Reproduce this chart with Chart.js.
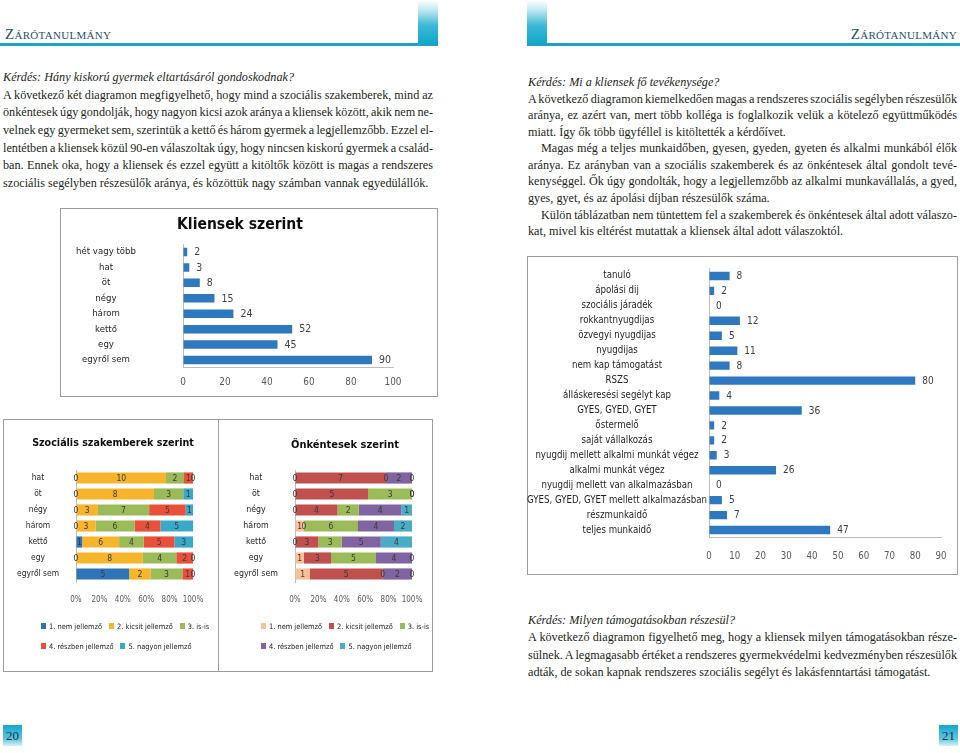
<!DOCTYPE html>
<html lang="hu"><head><meta charset="utf-8">
<title>Zárótanulmány</title>
<script src="https://cdn.jsdelivr.net/npm/chart.js@4.4.1/dist/chart.umd.min.js"></script>
<style>
html,body{margin:0;padding:0;background:#fff;}
body{width:960px;height:753px;position:relative;overflow:hidden;font-family:'Liberation Serif','DejaVu Serif',serif;color:#231f20;}
.ln{position:absolute;white-space:nowrap;font-size:12.2px;line-height:16px;height:16px;}
.it{font-style:italic;}
.frame{position:absolute;border:1px solid #9c9c9c;box-sizing:border-box;}
canvas.ch{position:absolute;}
.hdr{position:absolute;top:26px;font-variant:small-caps;font-size:15px;letter-spacing:0.3px;line-height:16px;color:#24506f;}
.rule{position:absolute;top:43px;height:3px;background:#1aa3c5;}
.vbar{position:absolute;top:0;height:46px;width:20px;background:linear-gradient(to bottom,#ffffff 0%,#bfe8f1 22%,#3db8d6 55%,#0ba6ca 100%);}
.pg{position:absolute;top:725px;width:19px;height:21px;background:linear-gradient(to bottom,#12a8cb 0%,#5cc5dd 65%,#d8f1f7 100%);font-size:13px;line-height:21px;text-align:center;color:#1d2f4a;}
.leg{position:absolute;white-space:nowrap;color:#222;line-height:12px;height:12px;}
.leg i{display:inline-block;width:5px;height:6px;margin-right:3px;}
</style>
</head>
<body>
<!-- headers -->
<div class="vbar" style="left:418px"></div>
<div class="rule" style="left:0px;width:438px"></div>
<div class="hdr" style="left:5px">Zárótanulmány</div>
<div class="vbar" style="left:527px"></div>
<div class="rule" style="left:527px;width:433px"></div>
<div class="hdr" style="right:3px">Zárótanulmány</div>

<!-- left page text -->
<div class="ln it" style="left:3px;top:69px">Kérdés: Hány kiskorú gyermek eltartásáról gondoskodnak?</div>
<div class="ln j" data-w="430" style="left:3px;top:86.7px">A következő két diagramon megfigyelhető, hogy mind a szociális szakemberek, mind az</div>
<div class="ln j" data-w="430" style="left:3px;top:104.3px">önkéntesek úgy gondolják, hogy nagyon kicsi azok aránya a kliensek között, akik nem ne-</div>
<div class="ln j" data-w="430" style="left:3px;top:122px">velnek egy gyermeket sem, szerintük a kettő és három gyermek a legjellemzőbb. Ezzel el-</div>
<div class="ln j" data-w="430" style="left:3px;top:139.7px">lentétben a kliensek közül 90-en válaszoltak úgy, hogy nincsen kiskorú gyermek a család-</div>
<div class="ln j" data-w="430" style="left:3px;top:157.3px">ban. Ennek oka, hogy a kliensek és ezzel együtt a kitöltők között is magas a rendszeres</div>
<div class="ln" style="left:3px;top:175px">szociális segélyben részesülők aránya, és közöttük nagy számban vannak egyedülállók.</div>

<!-- right page text -->
<div class="ln it" style="left:528px;top:74px">Kérdés: Mi a kliensek fő tevékenysége?</div>
<div class="ln j" data-w="429" style="left:528px;top:90.6px">A következő diagramon kiemelkedően magas a rendszeres szociális segélyben részesülők</div>
<div class="ln j" data-w="429" style="left:528px;top:107.1px">aránya, ez azért van, mert több kolléga is foglalkozik velük a kötelező együttműködés</div>
<div class="ln" style="left:528px;top:123.7px">miatt. Így ők több ügyféllel is kitöltették a kérdőívet.</div>
<div class="ln j" data-w="416" style="left:541px;top:140.2px">Magas még a teljes munkaidőben, gyesen, gyeden, gyeten és alkalmi munkából élők</div>
<div class="ln j" data-w="429" style="left:528px;top:156.8px">aránya. Ez arányban van a szociális szakemberek és az önkéntesek által gondolt tevé-</div>
<div class="ln j" data-w="429" style="left:528px;top:173.4px">kenységgel. Ők úgy gondolták, hogy a legjellemzőbb az alkalmi munkavállalás, a gyed,</div>
<div class="ln" style="left:528px;top:189.9px">gyes, gyet, és az ápolási díjban részesülők száma.</div>
<div class="ln j" data-w="416" style="left:541px;top:206.5px">Külön táblázatban nem tüntettem fel a szakemberek és önkéntesek által adott válaszo-</div>
<div class="ln" style="left:528px;top:223px">kat, mivel kis eltérést mutattak a kliensek által adott válaszoktól.</div>

<div class="ln it" style="left:528px;top:612px">Kérdés: Milyen támogatásokban részesül?</div>
<div class="ln j" data-w="429" style="left:528px;top:629px">A következő diagramon figyelhető meg, hogy a kliensek milyen támogatásokban része-</div>
<div class="ln j" data-w="429" style="left:528px;top:647px">sülnek. A legmagasabb értéket a rendszeres gyermekvédelmi kedvezményben részesülők</div>
<div class="ln" style="left:528px;top:664px">adták, de sokan kapnak rendszeres szociális segélyt és lakásfenntartási támogatást.</div>

<div class="pg" style="left:3px">20</div>
<div class="pg" style="left:939px">21</div>

<!-- chart frames -->
<div class="frame" style="left:60px;top:208px;width:378px;height:189px"></div>
<div class="frame" style="left:3px;top:419px;width:216px;height:253px"></div>
<div class="frame" style="left:218px;top:419px;width:215px;height:253px"></div>
<div class="frame" style="left:527px;top:256px;width:431px;height:319px"></div>

<canvas class="ch" id="kids" width="378" height="189" style="left:60px;top:208px"></canvas>
<canvas class="ch" id="social" width="215" height="253" style="left:3px;top:418px"></canvas>
<canvas class="ch" id="volunteer" width="215" height="253" style="left:218px;top:418px"></canvas>
<canvas class="ch" id="activity" width="431" height="318" style="left:527px;top:256px"></canvas>

<script>
// ---------------- DATA ----------------
const kidCategories = ['hét vagy több', 'hat', 'öt', 'négy', 'három', 'kettő', 'egy', 'egyről sem'];
const kidClientValues = [2, 3, 8, 15, 24, 52, 45, 90];
const kidTicks = ['0', '20', '40', '60', '80', '100'];

const stackCategories = ['hat', 'öt', 'négy', 'három', 'kettő', 'egy', 'egyről sem'];
const ratingLabels = ['1. nem jellemző', '2. kicsit jellemző', '3. is-is', '4. részben jellemző', '5. nagyon jellemző'];
const percentTicks = ['0%', '20%', '40%', '60%', '80%', '100%'];

const socialNem = [0, 0, 0, 0, 1, 0, 5];
const socialKicsit = [10, 8, 3, 3, 6, 8, 2];
const socialIsis = [2, 3, 7, 6, 4, 4, 3];
const socialReszben = [1, 0, 5, 4, 5, 2, 1];
const socialNagyon = [0, 1, 1, 5, 3, 0, 0];

const volNem = [0, 0, 0, 1, 0, 1, 1];
const volKicsit = [7, 5, 4, 0, 3, 3, 5];
const volIsis = [0, 3, 2, 6, 3, 5, 0];
const volReszben = [2, 0, 4, 4, 5, 4, 2];
const volNagyon = [0, 0, 1, 2, 4, 0, 0];

const activityCategories = ['tanuló', 'ápolási dij', 'szociális járadék', 'rokkantnyugdijas', 'özvegyi nyugdijas',
  'nyugdijas', 'nem kap támogatást', 'RSZS', 'álláskeresési segélyt kap', 'GYES, GYED, GYET', 'őstermelő',
  'saját vállalkozás', 'nyugdij mellett alkalmi munkát végez', 'alkalmi munkát végez',
  'nyugdij mellett van alkalmazásban', 'GYES, GYED, GYET mellett alkalmazásban', 'részmunkaidő', 'teljes munkaidő'];
const activityValues = [8, 2, 0, 12, 5, 11, 8, 80, 4, 36, 2, 2, 3, 26, 0, 5, 7, 47];
const activityTicks = ['0', '10', '20', '30', '40', '50', '60', '70', '80', '90'];

const socialColors = ['#2e75b6', '#f7b52c', '#9bbb59', '#e8503a', '#39a9c9'];
const volColors = ['#f9c19b', '#c0504d', '#9bbb59', '#8064a2', '#4bacc6'];
const barBlue = '#2e78bf';

// ---------------- helpers ----------------
const SANS = "'Liberation Sans Narrow', 'DejaVu Sans Condensed', 'Open Sans', sans-serif";
const mctx = document.createElement('canvas').getContext('2d');
function textW(t, size, weight) { mctx.font = weight + ' ' + size + 'px ' + SANS; return mctx.measureText(t).width; }
function fit(t, weight, target, cap) { const s = 100 * target / textW(t, 100, weight); return Math.min(s, cap); }
function widest(list, size, weight) { return Math.max(...list.map(t => textW(t, size, weight))); }

function valueLabelPlugin(o) {
  return {
    id: 'valueLabels',
    afterDatasetsDraw(chart) {
      const ctx = chart.ctx;
      ctx.save();
      ctx.font = 'normal ' + o.size + 'px ' + SANS;
      ctx.fillStyle = o.color;
      ctx.textBaseline = 'middle';
      const sets = chart.data.datasets;
      sets.forEach((ds, di) => {
        chart.getDatasetMeta(di).data.forEach((bar, i) => {
          const v = ds.counts ? ds.counts[i] : ds.data[i];
          const txt = String(v);
          if (o.inside) {
            const cx = (bar.x + bar.base) / 2;
            // a zero label that would sit on top of the next segment's label is not shown
            if (v === 0 && di < sets.length - 1) {
              const nds = sets[di + 1], nbar = chart.getDatasetMeta(di + 1).data[i];
              const nv = nds.counts[i];
              if (nv !== 0 && Math.abs((nbar.x + nbar.base) / 2 - cx) < 6) return;
            }
            ctx.textAlign = 'center'; ctx.fillText(txt, cx, bar.y + 0.5);
          } else { ctx.textAlign = 'left'; ctx.fillText(txt, bar.x + o.offset, bar.y + 0.5); }
        });
      });
      ctx.restore();
    }
  };
}

function titlePlugin(g) {
  return {
    id: 'boxTitle',
    afterDraw(chart) {
      if (!g.title) return;
      const ctx = chart.ctx;
      ctx.save();
      ctx.font = 'bold ' + g.titleSize + 'px ' + SANS;
      ctx.fillStyle = '#0d0d0d';
      ctx.textAlign = 'center';
      ctx.textBaseline = 'middle';
      ctx.fillText(g.title, g.titleCX, g.titleCY);
      ctx.restore();
    }
  };
}

// g: geometry relative to canvas
function hbar(id, g, labels, datasets, xo) {
  const padRight = g.w - g.areaR;
  const padBottom = g.padBottom || 0;
  const xH = g.h - padBottom - g.areaB;
  const wid = widest(labels, g.labelSize, g.labelWeight || 'normal');
  const yPad = g.areaL - g.labelCX - wid / 2;
  const xPad = g.tickCY - g.areaB - 0.6 * g.tickSize;
  return new Chart(document.getElementById(id), {
    type: 'bar',
    data: { labels, datasets },
    options: {
      indexAxis: 'y', responsive: false, animation: false, devicePixelRatio: 1,
      layout: { padding: { left: 0, right: padRight, top: g.areaT, bottom: padBottom } },
      plugins: { legend: { display: false }, tooltip: { enabled: false }, title: { display: false } },
      scales: {
        x: {
          stacked: !!xo.stacked, min: 0, max: xo.max,
          ticks: { stepSize: xo.step, padding: xPad, color: '#595959', maxRotation: 0, minRotation: 0, autoSkip: false,
            font: { family: SANS, size: g.tickSize }, callback: (v, i) => xo.tickLabels[i] },
          grid: { display: true, drawOnChartArea: false, drawTicks: false },
          border: { display: xo.xBorder, color: '#bdbdbd' },
          afterFit: s => { s.height = xH; s.paddingLeft = 0; s.paddingRight = 0; }
        },
        y: {
          stacked: !!xo.stacked,
          ticks: { crossAlign: 'center', padding: yPad, autoSkip: false, color: '#1f1f1f',
            font: { family: SANS, size: g.labelSize, weight: g.labelWeight || 'normal' } },
          grid: { display: true, drawOnChartArea: false, drawTicks: false },
          border: { display: true, color: '#bdbdbd' },
          afterFit: s => { s.width = g.areaL; s.paddingTop = 0; s.paddingBottom = 0; }
        }
      }
    },
    plugins: [valueLabelPlugin(xo.values), titlePlugin(g)]
  });
}

function stackSets(series, colors) {
  const totals = stackCategories.map((_, i) => series.reduce((a, s) => a + s[i], 0));
  return series.map((s, k) => ({
    label: ratingLabels[k], counts: s,
    data: s.map((v, i) => v / totals[i] * 100),
    backgroundColor: colors[k], borderWidth: 0,
    barPercentage: 0.7, categoryPercentage: 1
  }));
}

function legend(x0, ys, colors, size, gap) {
  const rows = [[0, 1, 2], [3, 4]];
  rows.forEach((r, ri) => {
    const d = document.createElement('div');
    d.className = 'leg';
    d.style.left = x0 + 'px';
    d.style.top = (ys[ri] - 6) + 'px';
    d.style.fontFamily = SANS;
    d.style.fontSize = size + 'px';
    d.innerHTML = r.map(k => '<span style="margin-right:' + gap + 'px"><i style="background:' + colors[k] + '"></i>' + ratingLabels[k] + '</span>').join('');
    document.body.appendChild(d);
  });
}

// ---------------- justify text lines ----------------
document.querySelectorAll('.j').forEach(el => {
  const target = parseFloat(el.dataset.w);
  const natural = el.getBoundingClientRect().width;
  const spaces = (el.textContent.match(/ /g) || []).length;
  if (spaces) el.style.wordSpacing = ((target - natural) / spaces) + 'px';
});

// ---------------- charts ----------------
hbar('kids', {
  w: 378, h: 189, areaL: 123, areaR: 333, areaT: 36.3, areaB: 159.7,
  title: 'Kliensek szerint', titleSize: fit('Kliensek szerint', 'bold', 126, 18), titleCX: 180, titleCY: 17,
  labelSize: fit('hét vagy több', 'normal', 60, 11), labelCX: 46,
  tickSize: fit('100', 'normal', 17, 11), tickCY: 174
}, kidCategories, [{
  data: kidClientValues, backgroundColor: barBlue, borderWidth: 0, barPercentage: 0.55, categoryPercentage: 1
}], { max: 100, step: 20, tickLabels: kidTicks, xBorder: true,
  values: { size: fit('90', 'normal', 12, 11), color: '#404040', offset: 7 } });

hbar('social', {
  w: 215, h: 253, areaL: 73, areaR: 190, areaT: 52, areaB: 164,
  title: 'Szociális szakemberek szerint', titleSize: fit('Szociális szakemberek szerint', 'bold', 162, 17), titleCX: 110, titleCY: 25,
  labelSize: fit('egyről sem', 'normal', 42, 11), labelCX: 35,
  tickSize: 8, tickCY: 182
}, stackCategories, stackSets([socialNem, socialKicsit, socialIsis, socialReszben, socialNagyon], socialColors),
{ stacked: true, max: 100, step: 20, tickLabels: percentTicks, xBorder: false,
  values: { size: 8.5, color: '#3a3a3a', inside: true } });

hbar('volunteer', {
  w: 215, h: 253, areaL: 77, areaR: 194, areaT: 52, areaB: 164,
  title: 'Önkéntesek szerint', titleSize: fit('Önkéntesek szerint', 'bold', 108, 17), titleCX: 127, titleCY: 27,
  labelSize: fit('egyről sem', 'normal', 44, 11), labelCX: 38,
  tickSize: 8, tickCY: 182
}, stackCategories, stackSets([volNem, volKicsit, volIsis, volReszben, volNagyon], volColors),
{ stacked: true, max: 100, step: 20, tickLabels: percentTicks, xBorder: false,
  values: { size: 8.5, color: '#3a3a3a', inside: true } });

hbar('activity', {
  w: 431, h: 318, areaL: 182, areaR: 414, areaT: 12.5, areaB: 281.5,
  labelSize: fit('GYES, GYED, GYET mellett alkalmazásban', 'normal', 180, 11.5), labelCX: 90,
  tickSize: fit('90', 'normal', 11, 12), tickCY: 301
}, activityCategories, [{
  data: activityValues, backgroundColor: barBlue, borderWidth: 0, barPercentage: 0.56, categoryPercentage: 1
}], { max: 90, step: 10, tickLabels: activityTicks, xBorder: true,
  values: { size: fit('80', 'normal', 11.5, 12.5), color: '#404040', offset: 7 } });

legend(41, [627, 647], socialColors, 7.4, 7);
legend(261, [627, 647], volColors, 7.4, 7);
</script>
</body></html>
